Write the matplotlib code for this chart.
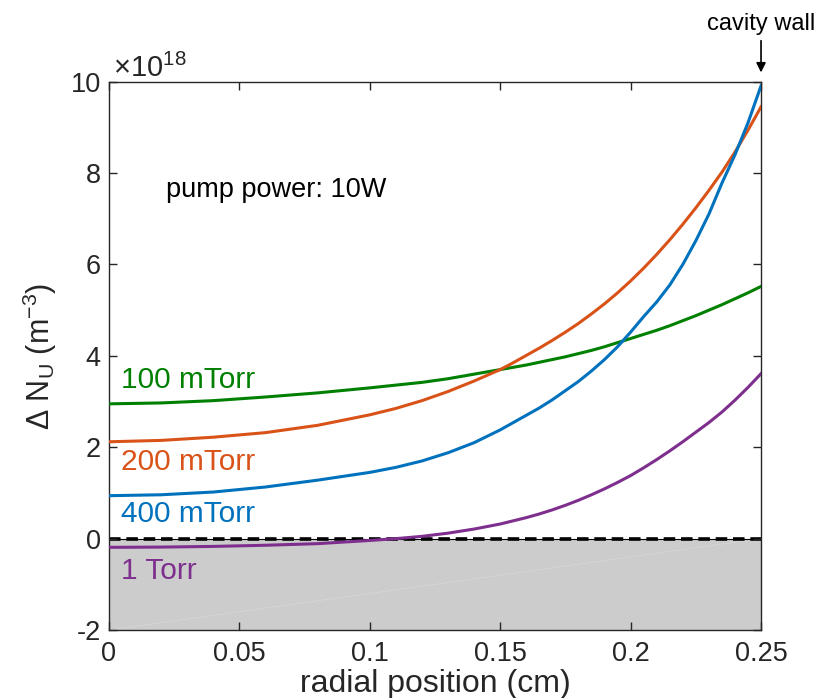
import numpy as np
import matplotlib.pyplot as plt

plt.rcParams['font.family'] = ['Liberation Sans', 'DejaVu Sans']
plt.rcParams['mathtext.default'] = 'regular'
plt.rcParams['axes.unicode_minus'] = False

# radial position (cm)
r = [0, 0.02, 0.04, 0.06, 0.08, 0.10, 0.11, 0.12, 0.13, 0.14, 0.15,
     0.155, 0.16, 0.165, 0.17, 0.175, 0.18, 0.185, 0.19, 0.195, 0.20,
     0.205, 0.21, 0.215, 0.22, 0.225, 0.23, 0.235, 0.24, 0.245, 0.25]

# delta N_U in units of 1e18 m^-3
n_100mtorr = [2.95, 2.97, 3.02, 3.10, 3.19, 3.30, 3.36, 3.42, 3.50, 3.60, 3.70,
              3.75, 3.80, 3.86, 3.92, 3.98, 4.05, 4.12, 4.20, 4.29, 4.38,
              4.47, 4.56, 4.66, 4.77, 4.88, 5.00, 5.12, 5.25, 5.38, 5.52]
n_200mtorr = [2.12, 2.15, 2.22, 2.32, 2.48, 2.71, 2.85, 3.02, 3.22, 3.45, 3.70,
              3.85, 4.01, 4.17, 4.34, 4.52, 4.71, 4.92, 5.14, 5.38, 5.64,
              5.92, 6.22, 6.54, 6.88, 7.24, 7.62, 8.02, 8.46, 8.94, 9.45]
n_400mtorr = [0.94, 0.96, 1.02, 1.13, 1.28, 1.45, 1.56, 1.70, 1.88, 2.10, 2.38,
              2.54, 2.70, 2.86, 3.04, 3.24, 3.44, 3.67, 3.92, 4.20, 4.52,
              4.86, 5.18, 5.55, 6.00, 6.52, 7.10, 7.78, 8.40, 9.10, 9.91]
n_1torr = [-0.19, -0.185, -0.17, -0.145, -0.11, -0.04, 0.0, 0.05, 0.12, 0.21, 0.32,
           0.39, 0.46, 0.54, 0.63, 0.73, 0.84, 0.96, 1.09, 1.23, 1.38,
           1.55, 1.73, 1.92, 2.12, 2.33, 2.54, 2.77, 3.03, 3.31, 3.61]

labels = ['100 mTorr', '200 mTorr', '400 mTorr', '1 Torr']
colors = ['#008000', '#D95319', '#0072BD', '#7E2F8E']
label_y = [3.48, 1.67, 0.53, -0.71]

fig = plt.figure(figsize=(8.23, 6.98), dpi=100)
ax = fig.add_axes([0.1324, 0.0974, 0.7923, 0.7855])

ax.fill_between([0, 0.25], -2, 0, color='#cccccc', lw=0, zorder=0)
ax.plot([0, 0.25], [-2, 0], color='#d6d6d6', lw=0.6, zorder=0.5)
ax.axhline(0, color='k', lw=0.8, zorder=1)
ax.axhline(0, color='k', lw=2.6, ls=(0, (3.2, 1.6)), zorder=1)

for y, c in zip([n_100mtorr, n_200mtorr, n_400mtorr, n_1torr], colors):
    ax.plot(r, y, color=c, lw=2.2, zorder=3)

for lab, c, yy in zip(labels, colors, label_y):
    ax.text(0.0045, yy, lab, color=c, fontsize=21.5, va='center', ha='left')

ax.text(0.022, 7.63, 'pump power: 10W', fontsize=19.5, va='center', ha='left')

ax.set_xlim(0, 0.25)
ax.set_ylim(-2, 10)
ax.set_xticks([0, 0.05, 0.1, 0.15, 0.2, 0.25])
ax.set_xticklabels(['0', '0.05', '0.1', '0.15', '0.2', '0.25'])
ax.set_yticks(np.arange(-2, 11, 2))
ax.tick_params(direction='in', length=6, width=1, top=True, right=True,
               labelsize=19.5, colors='#262626')
ax.tick_params(axis='x', pad=8)
ax.tick_params(axis='y', pad=6)
for s in ax.spines.values():
    s.set_color('#262626')
    s.set_linewidth(1)

ax.set_xlabel('radial position (cm)', fontsize=23, color='#262626', labelpad=1)
ax.set_ylabel('Δ N$_U$ (m$^{-3}$)', fontsize=22, color='#262626', labelpad=8)
ax.text(0.006, 1.008, r'$\times$10$^{18}$', transform=ax.transAxes, fontsize=21,
        color='#262626', ha='left', va='baseline')

ax.annotate('cavity wall', xy=(0.25, 1.017), xycoords=('data', 'axes fraction'),
            xytext=(0.25, 1.085), textcoords=('data', 'axes fraction'),
            ha='center', va='bottom', fontsize=17,
            arrowprops=dict(arrowstyle='-|>', color='k', lw=1.2,
                            mutation_scale=14, shrinkA=2, shrinkB=0))

fig.savefig('out.png', dpi=100)
